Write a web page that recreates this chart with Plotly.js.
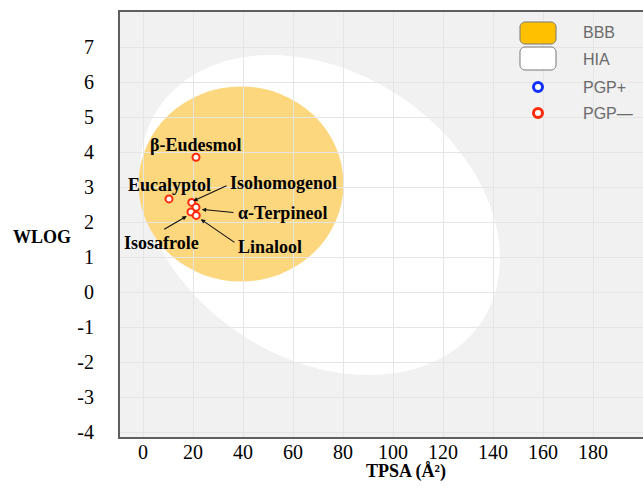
<!DOCTYPE html>
<html>
<head>
<meta charset="utf-8">
<script src="https://cdn.plot.ly/plotly-3.0.1.min.js"></script>
<style>html,body{margin:0;padding:0;background:#fff;}#chart{width:643px;height:490px;}</style>
</head>
<body>
<div id="chart"></div>
<script>
// ---- data ----
const compounds = ['β-Eudesmol', 'Eucalyptol', 'Isohomogenol', 'α-Terpineol', 'Isosafrole', 'Linalool'];
const tpsa = [21.2, 10.4, 19.5, 21.2, 19.2, 21.3];
const wlogp = [3.85, 2.66, 2.56, 2.42, 2.29, 2.19];
const xTickVals = [0, 20, 40, 60, 80, 100, 120, 140, 160, 180];
const yTickVals = [-4, -3, -2, -1, 0, 1, 2, 3, 4, 5, 6, 7];
const yTickText = ['-4', '-3', '-2', '-1', '0', '1', '2', '3', '4', '5', '6', '7'];
const legendNames = ['BBB', 'HIA', 'PGP+', 'PGP—'];

// ---- layout helpers ----
const W = 643, H = 490, ML = 120, MR = 0, MT = 12, MB = 53;
const fx = p => (p - ML) / (W - ML - MR);
const fy = p => (H - MB - p) / (H - MT - MB);

function ellipsePath(cx, cy, ax, bx, ay, by) {
  let d = '';
  const n = 90;
  for (let i = 0; i <= n; i++) {
    const t = 2 * Math.PI * i / n;
    const x = cx + ax * Math.cos(t) + bx * Math.sin(t);
    const y = cy + ay * Math.cos(t) + by * Math.sin(t);
    d += (i === 0 ? 'M' : 'L') + x.toFixed(3) + ',' + y.toFixed(4);
  }
  return d + 'Z';
}
function roundRectPaper(x0, y0, x1, y1, r) {
  const pts = [];
  const arc = (cx, cy, a0, a1) => {
    for (let i = 0; i <= 6; i++) {
      const a = a0 + (a1 - a0) * i / 6;
      pts.push([cx + r * Math.cos(a), cy + r * Math.sin(a)]);
    }
  };
  arc(x1 - r, y0 + r, -Math.PI / 2, 0);
  arc(x1 - r, y1 - r, 0, Math.PI / 2);
  arc(x0 + r, y1 - r, Math.PI / 2, Math.PI);
  arc(x0 + r, y0 + r, Math.PI, 1.5 * Math.PI);
  return pts.map((p, i) => (i ? 'L' : 'M') + fx(p[0]).toFixed(4) + ',' + fy(p[1]).toFixed(4)).join('') + 'Z';
}

const serif = '"Liberation Serif", "Times New Roman", serif';
const sans = '"Liberation Sans", Arial, sans-serif';

const shapes = [
  {type: 'path', xref: 'x', yref: 'y', layer: 'below',
   path: ellipsePath(70.8, 2.2, 64.83, -31.35, -3.031, -3.421),
   fillcolor: '#ffffff', line: {width: 0}},
  {type: 'circle', xref: 'x', yref: 'y', layer: 'below',
   x0: -1.8, x1: 80.2, y0: 0.3, y1: 5.872,
   fillcolor: '#FCD77E', line: {width: 0}},
  {type: 'path', xref: 'paper', yref: 'paper', path: roundRectPaper(520, 22, 556, 44, 5),
   fillcolor: '#FFC000', line: {color: '#777', width: 1}},
  {type: 'path', xref: 'paper', yref: 'paper', path: roundRectPaper(520, 47, 556, 70, 5),
   fillcolor: '#ffffff', line: {color: '#777', width: 1}},
  {type: 'circle', xref: 'paper', yref: 'paper', x0: fx(533.5), x1: fx(542.5), y0: fy(91.5), y1: fy(82.5),
   fillcolor: '#ffffff', line: {color: '#1030ff', width: 3}},
  {type: 'circle', xref: 'paper', yref: 'paper', x0: fx(533.5), x1: fx(542.5), y0: fy(117.5), y1: fy(108.5),
   fillcolor: '#ffffff', line: {color: '#ff2a0a', width: 3}}
];

const labelFont = {family: serif, size: 18, color: '#000'};
const labelPos = [[21.2, 4.2], [10.5, 3.06], [56, 3.11], [55.9, 2.25], [7.5, 1.39], [50.8, 1.28]];
const arrows = [null, null, [20.1, 2.6, 34, 3.06], [23.5, 2.36, 36.8, 2.27], [17.5, 2.17, 7.9, 1.77], [23.1, 2.08, 37.2, 1.39]];

const annotations = [];
compounds.forEach((c, i) => {
  annotations.push({x: labelPos[i][0], y: labelPos[i][1], xref: 'x', yref: 'y', xanchor: 'center', yanchor: 'middle',
    text: '<b>' + c + '</b>', showarrow: false, font: labelFont});
  if (arrows[i]) {
    const a = arrows[i];
    annotations.push({x: a[0], y: a[1], xref: 'x', yref: 'y', ax: a[2], ay: a[3], axref: 'x', ayref: 'y',
      text: '', showarrow: true, arrowhead: 2, arrowsize: 0.8, arrowwidth: 1.1, arrowcolor: '#111', standoff: 0});
  }
});
const legY = [32, 60, 87, 113];
legendNames.forEach((n, i) => {
  annotations.push({x: fx(581), y: fy(legY[i]), xref: 'paper', yref: 'paper', xanchor: 'left', yanchor: 'middle',
    text: n, showarrow: false, font: {family: sans, size: 16, color: '#6a6a6a'}});
});
annotations.push({x: fx(42), y: fy(237), xref: 'paper', yref: 'paper', xanchor: 'center', yanchor: 'middle',
  text: '<b>WLOG</b>', showarrow: false, font: {family: serif, size: 18, color: '#000'}});
annotations.push({x: 105, y: fy(472), xref: 'x', yref: 'paper', xanchor: 'center', yanchor: 'middle',
  text: '<b>TPSA (Å²)</b>', showarrow: false, font: {family: serif, size: 18, color: '#000'}});

const trace = {
  type: 'scatter', mode: 'markers', x: tpsa, y: wlogp, text: compounds, showlegend: false,
  marker: {symbol: 'circle', size: 7, color: '#ffffff', line: {color: '#ff2a0a', width: 2}},
  hoverinfo: 'text'
};

const layout = {
  width: W, height: H,
  margin: {l: ML, r: MR, t: MT, b: MB, pad: 0},
  paper_bgcolor: '#ffffff', plot_bgcolor: '#f1f1f1',
  showlegend: false,
  xaxis: {range: [-9.2, 200], tickvals: xTickVals, ticks: '', showgrid: true, gridcolor: '#e5e5e5', gridwidth: 1,
    zeroline: false, showline: true, mirror: true, linecolor: '#5f5f5f', linewidth: 2,
    tickfont: {family: serif, size: 20, color: '#000'}, ticklabelstandoff: -4},
  yaxis: {range: [-4.14, 8.0], tickvals: yTickVals, ticktext: yTickText, ticks: '', showgrid: true, gridcolor: '#e5e5e5',
    gridwidth: 1, zeroline: false, showline: true, mirror: false, linecolor: '#5f5f5f', linewidth: 2,
    tickfont: {family: serif, size: 20, color: '#000'}, ticklabelstandoff: 20},
  shapes: shapes,
  annotations: annotations
};

Plotly.newPlot('chart', [trace], layout, {displayModeBar: false, staticPlot: true});
</script>
</body>
</html>
